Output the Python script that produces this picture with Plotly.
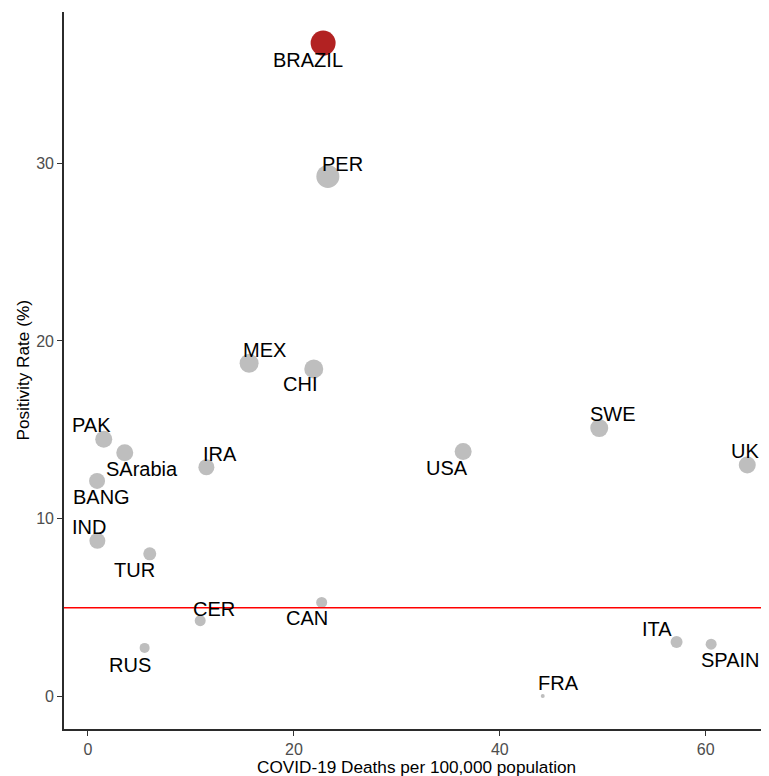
import plotly.graph_objects as go

countries = ["BRAZIL", "PER", "MEX", "CHI", "IRA", "USA", "PAK", "SArabia", "BANG", "IND",
             "TUR", "CER", "CAN", "RUS", "FRA", "ITA", "SPAIN", "SWE", "UK"]
deaths = [22.84, 23.3, 15.65, 21.93, 11.5, 36.44, 1.53, 3.57, 0.88, 0.91,
          6.0, 10.9, 22.7, 5.5, 44.17, 57.17, 60.53, 49.66, 64.04]
positivity = [36.75, 29.25, 18.75, 18.43, 12.9, 13.78, 14.48, 13.72, 12.13, 8.76,
              8.03, 4.27, 5.3, 2.74, 0.03, 3.07, 2.95, 15.1, 13.03]
bubble = [25, 23, 19, 19, 16, 17, 17, 17, 16, 16,
          13, 11, 11, 10, 4, 12, 11, 18, 17]
threshold = 5

# label offsets in pixels (repel-style placement)
label_dx = [-15, 15, 15, -14, 14, -16, -12, 17, 4, -8,
            -15, 14, -15, -15, 16, -20, 19, 14, -2]
label_dy = [-17, 12, 13, -15, 13, -16, 14, -16, -16, 14,
            -16, 12, -16, -17, 13, 13, -16, 14, 14]

colors = ["#B22222" if c == "BRAZIL" else "#BEBEBE" for c in countries]

fig = go.Figure()
fig.add_trace(go.Scatter(
    x=deaths, y=positivity, mode="markers",
    marker=dict(size=bubble, color=colors, line=dict(width=0), opacity=1),
    hoverinfo="text", text=countries, showlegend=False, cliponaxis=True,
))

fig.add_hline(y=threshold, line=dict(color="#FF0000", width=1.6), layer="above")

for c, x, y, dx, dy in zip(countries, deaths, positivity, label_dx, label_dy):
    fig.add_annotation(x=x, y=y, text=c, showarrow=False, xshift=dx, yshift=dy,
                       font=dict(family="Liberation Sans, Arial", size=20, color="#000000"),
                       xanchor="center", yanchor="middle")

axis_common = dict(
    showgrid=False, zeroline=False, showline=True, linecolor="#2b2b2b", linewidth=1.6,
    ticks="outside", ticklen=5, tickwidth=1.2, tickcolor="#333333", automargin=False,
    tickfont=dict(family="Liberation Sans, Arial", size=16, color="#4D4D4D"),
)

# page body has an 8px margin, so the figure is sized/offset to compensate
fig.update_layout(
    width=761, height=768,
    margin=dict(l=56, r=0, t=4, b=47),
    plot_bgcolor="white", paper_bgcolor="white",
    xaxis=dict(range=[-2.33, 66.15], tickvals=[0, 20, 40, 60], **axis_common),
    yaxis=dict(range=[-1.82, 38.5], tickvals=[0, 10, 20, 30], **axis_common),
)

title_font = dict(family="Liberation Sans, Arial", size=17.2, color="#000000")
fig.add_annotation(xref="paper", yref="paper", x=0.5, y=0, yshift=-38,
                   text="COVID-19 Deaths per 100,000 population", showarrow=False,
                   xanchor="center", yanchor="middle", font=title_font)
fig.add_annotation(xref="paper", yref="paper", x=0, y=0.5, xshift=-42,
                   text="Positivity Rate (%)", showarrow=False, textangle=-90,
                   xanchor="center", yanchor="middle", font=title_font)

fig.write_html("out.html")
